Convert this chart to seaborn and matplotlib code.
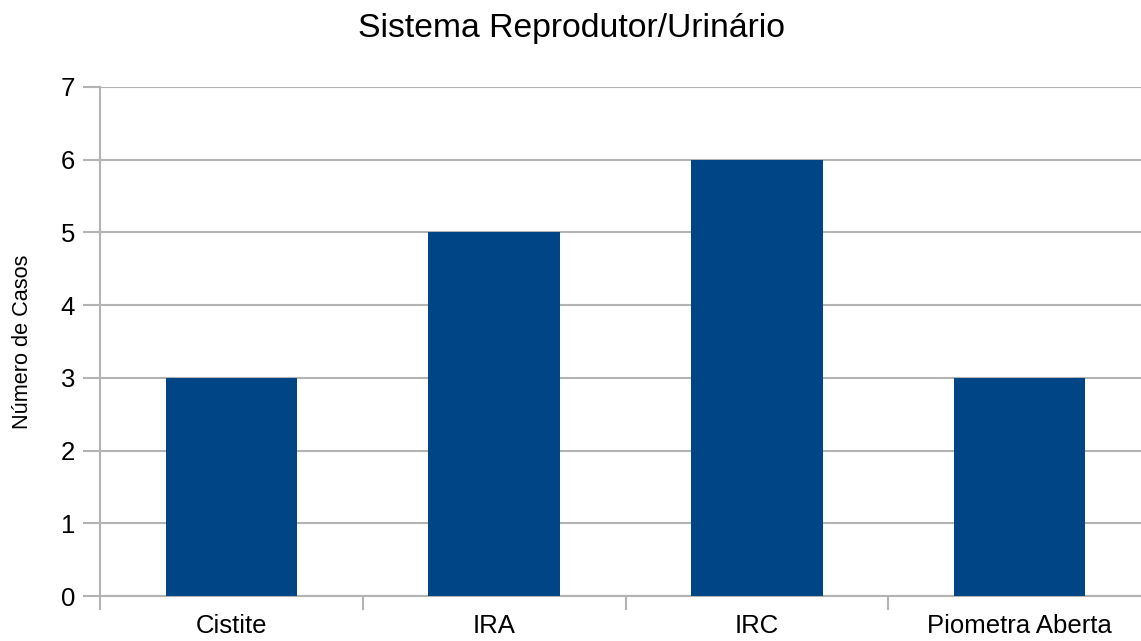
import matplotlib
matplotlib.use("Agg")
import matplotlib.pyplot as plt
import seaborn as sns
import pandas as pd

categories = ["Cistite", "IRA", "IRC", "Piometra Aberta"]
values = [3, 5, 6, 3]
yticks = [0, 1, 2, 3, 4, 5, 6, 7]

sns.set_theme(style="white")
plt.rcParams['font.family'] = ['Liberation Sans', 'DejaVu Sans']
plt.rcParams['text.color'] = 'black'
plt.rcParams['xtick.color'] = 'black'
plt.rcParams['ytick.color'] = 'black'
plt.rcParams['axes.labelcolor'] = 'black'

df = pd.DataFrame({"cat": categories, "val": values})

fig = plt.figure(figsize=(11.41, 6.41), dpi=100)
ax = fig.add_axes([100/1141, 1-596/641, 1051/1141, (596-87)/641])

sns.barplot(data=df, x="cat", y="val", color="#004586", width=0.5,
            saturation=1, linewidth=0, ax=ax, zorder=3)

ax.set_ylim(0, 7)
ax.set_xlim(-0.5, len(categories) - 0.5)
ax.set_yticks(yticks)
ax.set_yticklabels([str(t) for t in yticks], fontsize=18.5)
ax.yaxis.grid(True, color="#b3b3b3", linewidth=1.5, zorder=0)
ax.set_axisbelow(True)

ax.set_xticks(range(len(categories)))
ax.set_xticklabels(categories, fontsize=18.5)
ax.tick_params(axis="x", length=0, pad=13, colors="black")
ax.set_xticks([i - 0.5 for i in range(len(categories) + 1)], minor=True)
ax.tick_params(axis="x", which="minor", length=10, width=1.5, color="#b3b3b3", direction="out", bottom=True)
ax.tick_params(axis="y", length=12, width=1.5, color="#b3b3b3", labelcolor="black", direction="out", left=True, pad=6)

for s in ["top", "right"]:
    ax.spines[s].set_visible(False)
for s in ["left", "bottom"]:
    ax.spines[s].set_color("#b3b3b3")
    ax.spines[s].set_linewidth(1.5)

ax.set_xlabel("")
ax.set_ylabel("Número de Casos", fontsize=15.7, labelpad=20)
fig.suptitle("Sistema Reprodutor/Urinário", fontsize=24.3, x=571/1141, y=1-29/641, va="center")

fig.savefig("out.png", dpi=100)
